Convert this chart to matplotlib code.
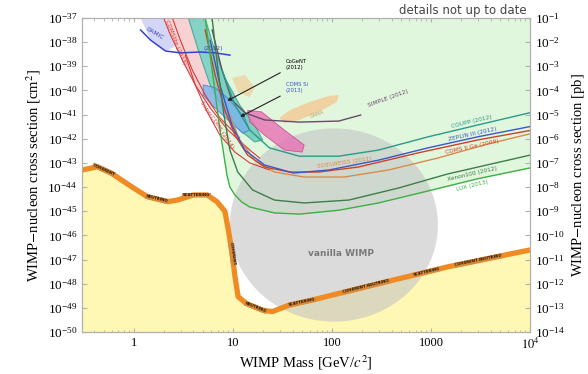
import numpy as np
import matplotlib.pyplot as plt

plt.rcParams['font.family'] = 'serif'
plt.rcParams['font.serif'] = ['Liberation Serif', 'DejaVu Serif']
plt.rcParams['mathtext.fontset'] = 'stix'

# neutrino floor (GeV, cm^2)
nu_m = [0.3, 0.43, 0.59, 1.0, 1.37, 2.2, 2.75, 4.0, 5.5, 6.9, 8.3, 9.0, 9.7,
        10.5, 11.3, 13.7, 20, 25, 37, 63, 295, 1480, 1e4]
nu_s = [5.1e-44, 6.9e-44, 3.8e-44, 9e-45, 4e-45, 2.5e-45, 2.9e-45, 4.7e-45,
        4.7e-45, 2.5e-45, 1e-45, 1.7e-46, 2.5e-47, 2e-48, 2.9e-49, 1.5e-49,
        8e-50, 7e-50, 1.3e-49, 2.1e-49, 1e-48, 5e-48, 2.5e-47]

# exclusion limits
lux_m = [5.25, 6.17, 7.41, 8.71, 9.33, 10.5, 12.3, 14.8, 26.3, 46.8, 117, 295, 933, 2951, 1e4]
lux_s = [1e-37, 7.1e-40, 2.3e-42, 3.2e-44, 1e-44, 4.7e-45, 2.4e-45, 1.5e-45, 8.5e-46,
         7.6e-46, 1.1e-45, 2.2e-45, 6.9e-45, 2.2e-44, 6.2e-44]
xe_m = [6.17, 7.08, 8.13, 9.33, 11.2, 15.8, 26.3, 52.5, 148, 468, 1479, 1e4]
xe_s = [1e-37, 7.1e-40, 9.6e-42, 3.4e-43, 4.2e-44, 7.6e-45, 2.9e-45, 2.2e-45,
        2.9e-45, 9.1e-45, 3.5e-44, 2.1e-43]
cdms_m = [5.25, 6.61, 8.32, 10.5, 14.1, 20.9, 37.2, 74, 186, 741, 2951, 1e4]
cdms_s = [3.2e-38, 4.4e-40, 1.5e-41, 1.4e-42, 2.1e-43, 6.8e-44, 4.2e-44, 4.2e-44,
          6.8e-44, 2.6e-43, 8.9e-43, 2.2e-42]
zep_m = [5.89, 7.41, 9.77, 13.2, 20.9, 41, 93, 295, 933, 2951, 1e4]
zep_s = [1.2e-38, 1.7e-40, 3.7e-42, 3.4e-43, 8.2e-44, 3.8e-44, 5.1e-44, 1.3e-43,
         4.2e-43, 1.2e-42, 3.2e-42]
coupp_m = [7.76, 10.5, 14.8, 23.4, 46.8, 117, 295, 933, 2951, 1e4]
coupp_s = [7.1e-40, 2.5e-41, 2.3e-42, 4.2e-43, 1.9e-43, 1.9e-43, 3.4e-43, 1.2e-42,
           3.7e-42, 1.2e-41]
edw_m = [8.91, 11.7, 16.6, 26.3, 52.5, 132, 372, 1175, 3715, 1e4]
edw_s = [1.5e-41, 8.9e-43, 1.3e-43, 4.2e-44, 2.6e-44, 2.6e-44, 5.1e-44, 1.6e-43,
         6.0e-43, 1.6e-42]
simple_m = [6.17, 7.76, 9.77, 13.2, 20.9, 46.8, 117, 195]
simple_s = [3.2e-38, 7.1e-40, 4.0e-41, 1.2e-41, 6.0e-42, 4.9e-42, 5.4e-42, 9.6e-42]
damic_m = [1.17, 1.48, 2.09, 2.95, 4.68, 6.61, 9.33]
damic_s = [3.2e-38, 1.2e-38, 4.3e-39, 3.6e-39, 3.9e-39, 3.6e-39, 2.9e-39]
red_a_m = [2.0, 2.34, 3.09, 4.17, 5.89, 8.91, 14.8, 18.6]
red_a_s = [1e-37, 2.0e-38, 1.8e-39, 1.7e-40, 1.9e-41, 2.3e-42, 3.4e-43, 1.6e-43]
red_b_m = [2.45, 2.95, 3.89, 5.25, 7.41, 11.7]
red_b_s = [1e-37, 1.2e-38, 7.1e-40, 6.5e-41, 7.2e-42, 1.1e-42]
scdms_m = [3.31, 4.17, 5.5, 7.41, 10.5, 14.8, 23.4]
scdms_s = [2.9e-39, 1.7e-40, 1.3e-41, 1.4e-42, 2.8e-43, 1.0e-43, 5.1e-44]

# signal regions
teal_m = [3.55, 4.47, 5.89, 8.32, 11.7, 16.6, 20.0, 16.6, 11.7, 8.32, 6.31, 5.25]
teal_s = [1e-37, 4.7e-39, 1.7e-40, 1.3e-41, 2.3e-42, 7.4e-43, 8.9e-43, 3.7e-42,
          2.5e-41, 3.3e-40, 7.6e-39, 1e-37]
pink_m = [2.0, 3.55, 4.47, 5.89, 7.41, 5.89, 4.17, 3.09, 2.34]
pink_s = [1e-37, 1e-37, 4.7e-39, 1.7e-40, 2.5e-41, 1.9e-41, 1.7e-40, 1.8e-39, 2.0e-38]
damic_fill_m = [1.17, 2.0, 2.34, 2.6, 2.09, 1.48]
damic_fill_s = [1e-37, 1e-37, 2.0e-38, 6.5e-39, 4.3e-39, 1.2e-38]
cdmssi_m = [5.01, 6.61, 9.33, 13.2, 14.8, 12.6, 8.91, 6.17, 5.01]
cdmssi_s = [1.7e-40, 1.3e-40, 4.0e-41, 7.2e-42, 2.3e-42, 1.7e-42, 6.0e-42, 2.5e-41, 6.5e-41]
cresst_m = [14.1, 19.5, 33.1, 52.5, 50.1, 33.1, 20.9, 14.8]
cresst_s = [1.5e-41, 1.3e-41, 2.3e-42, 5.5e-43, 2.8e-43, 3.4e-43, 1.4e-42, 4.9e-42]
dama_m = [29.5, 37.2, 59, 93, 117, 112, 74, 46.8, 33.1]
dama_s = [7.2e-42, 1.5e-41, 3.3e-41, 5.9e-41, 6.5e-41, 3.3e-41, 1.3e-41, 6.0e-42, 4.4e-42]
dama2_m = [9.8, 13.2, 16.6, 14.8, 11.2]
dama2_s = [3.3e-40, 4.4e-40, 1.3e-40, 5.2e-41, 8.7e-41]

# vanilla WIMP region: centre and half-widths in decades
wimp_c = (2.02, -45.57)
wimp_r = (1.05, 4.0)

fig = plt.figure(figsize=(5.88, 3.74), dpi=100)
ax = fig.add_axes([0.1395, 0.1123, 0.7619, 0.8396])
ax.set_xscale('log')
ax.set_yscale('log')
ax.set_xlim(0.3, 1e4)
ax.set_ylim(1e-50, 1e-37)

ax.fill_between(lux_m, lux_s, 1e-37, color='#e0f6dd', lw=0, zorder=1)
ax.fill_between(nu_m, 1e-50, nu_s, color='#fff7b4', lw=0, zorder=1)

t = np.linspace(0, 2 * np.pi, 200)
ax.fill(10 ** (wimp_c[0] + wimp_r[0] * np.cos(t)), 10 ** (wimp_c[1] + wimp_r[1] * np.sin(t)),
        color='#c4c4c4', alpha=0.6, lw=0, zorder=2)
ax.text(123, 1.7e-47, 'vanilla WIMP', family='DejaVu Sans', fontsize=6.5, color='#7a7a7a',
        ha='center', va='center', weight='bold', zorder=6)

ax.fill(pink_m, pink_s, color='#f8d2d2', lw=0, zorder=3)
ax.fill(damic_fill_m, damic_fill_s, color='#d3d6f6', lw=0, zorder=3)
ax.fill(teal_m, teal_s, facecolor='#5cc3b4', edgecolor='#2a9a8a', alpha=0.75, lw=0.8, zorder=3)
ax.fill(cdmssi_m, cdmssi_s, facecolor='#78b4ec', edgecolor='#3a70c8', alpha=0.8, lw=0.6, zorder=3)
ax.fill(cresst_m, cresst_s, facecolor='#e870b4', edgecolor='#c84090', alpha=0.8, lw=0.6, zorder=3)
ax.fill(dama_m, dama_s, color='#f0d2a2', lw=0, zorder=3)
ax.fill(dama2_m, dama2_s, color='#f0d2a2', alpha=0.8, lw=0, zorder=3)

ax.plot(red_a_m, red_a_s, color='#d83a3a', lw=0.8, zorder=4)
ax.plot(red_b_m, red_b_s, color='#d83a3a', lw=0.8, zorder=4)
ax.plot(scdms_m, scdms_s, color='#d83a3a', lw=0.8, zorder=4)
ax.plot(damic_m, damic_s, color='#3a40c8', lw=1.1, zorder=4)
ax.plot(simple_m, simple_s, color='#6a4a6a', lw=1.0, zorder=4)
ax.plot(coupp_m, coupp_s, color='#2a9a8a', lw=1.0, zorder=4)
ax.plot(edw_m, edw_s, color='#d98a4a', lw=1.0, zorder=4)
ax.plot(cdms_m, cdms_s, color='#d0402a', lw=1.0, zorder=4)
ax.plot(zep_m, zep_s, color='#3a58c8', lw=1.0, zorder=4)
ax.plot(xe_m, xe_s, color='#3f7d4a', lw=1.0, zorder=4)
ax.plot(lux_m, lux_s, color='#3cb043', lw=1.0, zorder=4)

ax.plot(nu_m, nu_s, color='#f08a22', lw=3.8, solid_capstyle='butt', zorder=5)


def seg_angle(m0, s0, m1, s1):
    p = ax.transData.transform([(m0, s0), (m1, s1)])
    return np.degrees(np.arctan2(p[1, 1] - p[0, 1], p[1, 0] - p[0, 0]))


def on_curve(m, xs, ys):
    return 10 ** np.interp(np.log10(m), np.log10(xs), np.log10(ys))


def curve_angle(m, xs, ys):
    a, b = m / 1.05, m * 1.05
    return seg_angle(a, on_curve(a, xs, ys), b, on_curve(b, xs, ys))


# text along the neutrino floor
floor_words = ['COHERENT', 'NEUTRINO', 'SCATTERING', 'COHERENT', 'NEUTRINO',
               'SCATTERING', 'COHERENT NEUTRINO', 'SCATTERING', 'COHERENT NEUTRINO']
floor_at = [0.5, 1.7, 4.3, 9.8, 17, 50, 220, 900, 3000]
for word, m in zip(floor_words, floor_at):
    ax.text(m, on_curve(m, nu_m, nu_s), word, family='DejaVu Sans', fontsize=2.8,
            weight='bold', color='#2a1a08', rotation=curve_angle(m, nu_m, nu_s),
            rotation_mode='anchor', ha='center', va='center',
            bbox=dict(facecolor='#d98a3a', edgecolor='none', pad=0.3), zorder=6)

# labels of the limit curves, shifted off their line by a few points
curve_labels = [
    ('COUPP (2012)', coupp_m, coupp_s, '#2a9a8a', 3.5),
    ('ZEPLIN III (2012)', zep_m, zep_s, '#3a58c8', 2.5),
    ('CDMS II Ge (2009)', cdms_m, cdms_s, '#d0402a', -4.0),
    ('Xenon100 (2012)', xe_m, xe_s, '#3f7d4a', -4.0),
    ('LUX (2013)', lux_m, lux_s, '#3cb043', -4.0),
]
for name, xs, ys, col, dy in curve_labels:
    m = 2600
    ax.annotate(name, (m, on_curve(m, xs, ys)), xytext=(0, dy), textcoords='offset points',
                family='DejaVu Sans', fontsize=4.2, color=col, ha='center', va='center',
                rotation=curve_angle(m, xs, ys), rotation_mode='anchor', zorder=6)

small = dict(family='DejaVu Sans', fontsize=4.2, zorder=6, rotation_mode='anchor',
             ha='center', va='center')
ax.text(135, 1.0e-43, 'EDELWEISS (2011)', color='#d98a4a', rotation=8, **small)
ax.text(372, 4.5e-41, 'SIMPLE (2012)', color='#6a4a6a', rotation=20, **small)
ax.text(70, 1.05e-41, 'DAMA', color='#c0a070', fontsize=3.5, family='DejaVu Sans',
        rotation=18, ha='center', va='center', zorder=6)
ax.text(6.9, 3.7e-42, 'SuperCDMS (2014)', color='#d83a3a', rotation=-56, **small)
ax.text(2.65, 1.0e-38, 'CDMSlite (2013)', color='#d83a3a', rotation=-68, **small)
ax.text(1.6, 2.2e-38, 'DAMIC', color='#3a40c8', rotation=-30, **small)
ax.text(6.4, 5.5e-39, '(2012)', color='#3a40c8', **small)

ax.annotate('CoGeNT\n(2012)', xy=(8.3, 3.3e-41), xytext=(34, 1.2e-39), fontsize=3.8,
            family='DejaVu Sans', color='k', ha='left', va='center', zorder=6,
            arrowprops=dict(arrowstyle='-|>', color='#222222', lw=0.8, mutation_scale=5))
ax.annotate('CDMS Si\n(2013)', xy=(11.2, 7.2e-42), xytext=(34, 1.3e-40), fontsize=3.8,
            family='DejaVu Sans', color='#3a58c8', ha='left', va='center', zorder=6,
            arrowprops=dict(arrowstyle='-|>', color='#222222', lw=0.8, mutation_scale=5))

# axes
for sp in ax.spines.values():
    sp.set_color('#b0b0b0')
ax.set_xticks([1, 10, 100, 1000, 1e4])
ax.set_xticklabels(['1', '10', '100', '1000', '$10^4$'])
ax.yaxis.set_major_locator(plt.LogLocator(base=10, numticks=30))
ax.yaxis.set_minor_locator(plt.NullLocator())
ax.tick_params(axis='both', which='both', direction='in', color='#b0b0b0', top=True)
ax.tick_params(axis='y', labelsize=9.5)
ax.tick_params(axis='x', labelsize=9)
ax.tick_params(axis='x', which='major', length=3)
ax.tick_params(axis='x', which='minor', length=1.8)
ax.set_xlabel(r'WIMP Mass [GeV/$c^2$]', fontsize=10.5, labelpad=1)
ax.set_ylabel(r'WIMP$-$nucleon cross section [cm$^2$]', fontsize=10.5, labelpad=3)

ax2 = ax.twinx()
ax2.set_yscale('log')
ax2.set_ylim(1e-14, 1e-1)
ax2.yaxis.set_major_locator(plt.LogLocator(base=10, numticks=30))
ax2.yaxis.set_minor_locator(plt.NullLocator())
ax2.tick_params(axis='y', direction='in', color='#b0b0b0', labelsize=9.5)
for sp in ax2.spines.values():
    sp.set_color('#b0b0b0')
ax2.set_ylabel(r'WIMP$-$nucleon cross section [pb]', fontsize=10.5, labelpad=4)

fig.text(0.895, 0.972, 'details not up to date', family='DejaVu Sans', fontsize=8.5,
         color='#444444', ha='right', va='center')

fig.savefig('out.png', dpi=100)
